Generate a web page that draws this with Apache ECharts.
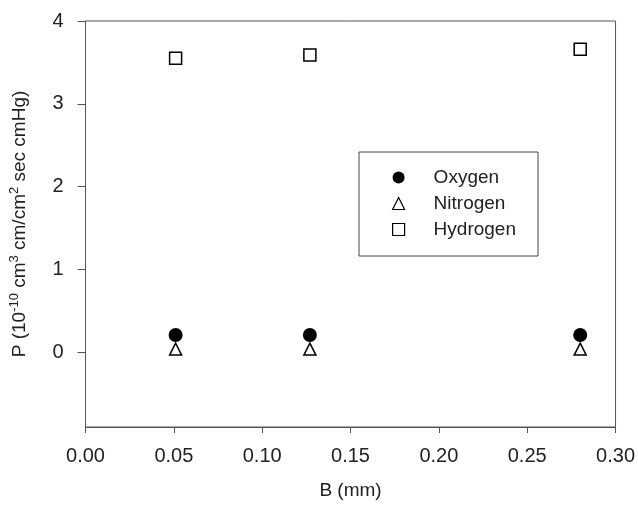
<!DOCTYPE html>
<html>
<head>
<meta charset="utf-8">
<script src="https://cdn.jsdelivr.net/npm/echarts@6/dist/echarts.min.js"></script>
<style>
  html, body { margin: 0; padding: 0; background: #fff; }
  #chart { width: 638px; height: 506px; }
</style>
</head>
<body>
<div id="chart"></div>
<script>
// B (mm) for each sample
const thickness = [0.051, 0.127, 0.28];
// permeability, 10^-10 cm3 cm/cm2 sec cmHg
const oxygen = [0.21, 0.21, 0.21];
const nitrogen = [0.04, 0.04, 0.04];
const hydrogen = [3.55, 3.59, 3.66];
const yTicks = [0, 1, 2, 3, 4];

const font = 'Liberation Sans, Arial, sans-serif';
const ink = '#222';
const axisColor = '#555';

const pairs = (vals) => thickness.map((x, i) => [x, vals[i]]);

const chart = echarts.init(document.getElementById('chart'));

chart.setOption({
  animation: false,
  backgroundColor: '#fff',
  grid: {
    left: 85, top: 21, right: 22, bottom: 79,
    show: true, borderColor: axisColor, borderWidth: 1
  },
  graphic: [{
    type: 'rect',
    shape: { x: 359, y: 152, width: 179, height: 104 },
    style: { fill: '#fff', stroke: '#444', lineWidth: 1 },
    z: 90
  }],
  legend: {
    orient: 'vertical',
    left: 392, top: 168,
    itemWidth: 12, itemHeight: 12, itemGap: 7,
    padding: 0,
    z: 100,
    textStyle: { fontFamily: font, fontSize: 19, color: ink, padding: [0, 0, 0, 24] },
    data: [
      { name: 'Oxygen', icon: 'circle', itemStyle: { color: '#000', opacity: 1 } },
      { name: 'Nitrogen', icon: 'triangle', itemStyle: { opacity: 1, borderWidth: 1.2 } },
      { name: 'Hydrogen', icon: 'rect', itemStyle: { opacity: 1, borderWidth: 1.2 } }
    ]
  },
  xAxis: {
    type: 'value',
    min: 0, max: 0.3, interval: 0.05,
    name: 'B (mm)',
    nameLocation: 'middle',
    nameGap: 54,
    nameTextStyle: { fontFamily: font, fontSize: 19, color: ink },
    axisLine: { onZero: false, lineStyle: { color: axisColor } },
    axisTick: { show: true, length: 6, lineStyle: { color: axisColor } },
    axisLabel: {
      margin: 19, fontFamily: font, fontSize: 20, color: ink,
      formatter: (v) => v.toFixed(2)
    },
    splitLine: { show: false }
  },
  yAxis: {
    type: 'value',
    min: -0.9, max: 4,
    name: '{a|P (10}{s|-10}{a| cm}{s|3}{a| cm/cm}{s|2}{a| sec cmHg)}',
    nameLocation: 'middle',
    nameGap: 54,
    nameRotate: 90,
    nameTextStyle: {
      rich: {
        a: { fontFamily: font, fontSize: 19, color: ink, lineHeight: 24 },
        s: { fontFamily: font, fontSize: 13, color: ink, lineHeight: 24, padding: [0, 0, 10, 0] }
      }
    },
    axisLine: { show: true, onZero: false, lineStyle: { color: axisColor } },
    axisTick: { show: true, length: 8, customValues: yTicks, lineStyle: { color: axisColor } },
    axisLabel: {
      margin: 22, fontFamily: font, fontSize: 20, color: ink,
      customValues: yTicks
    },
    splitLine: { show: false }
  },
  series: [
    {
      name: 'Oxygen', type: 'scatter', symbol: 'circle', symbolSize: 14,
      itemStyle: { color: '#000', opacity: 1 },
      data: pairs(oxygen)
    },
    {
      name: 'Nitrogen', type: 'scatter', symbol: 'triangle', symbolSize: 12,
      itemStyle: { color: '#fff', borderColor: '#000', borderWidth: 1.5, opacity: 1 },
      data: pairs(nitrogen)
    },
    {
      name: 'Hydrogen', type: 'scatter', symbol: 'rect', symbolSize: 12,
      itemStyle: { color: '#fff', borderColor: '#000', borderWidth: 1.5, opacity: 1 },
      data: pairs(hydrogen)
    }
  ]
});
</script>
</body>
</html>
